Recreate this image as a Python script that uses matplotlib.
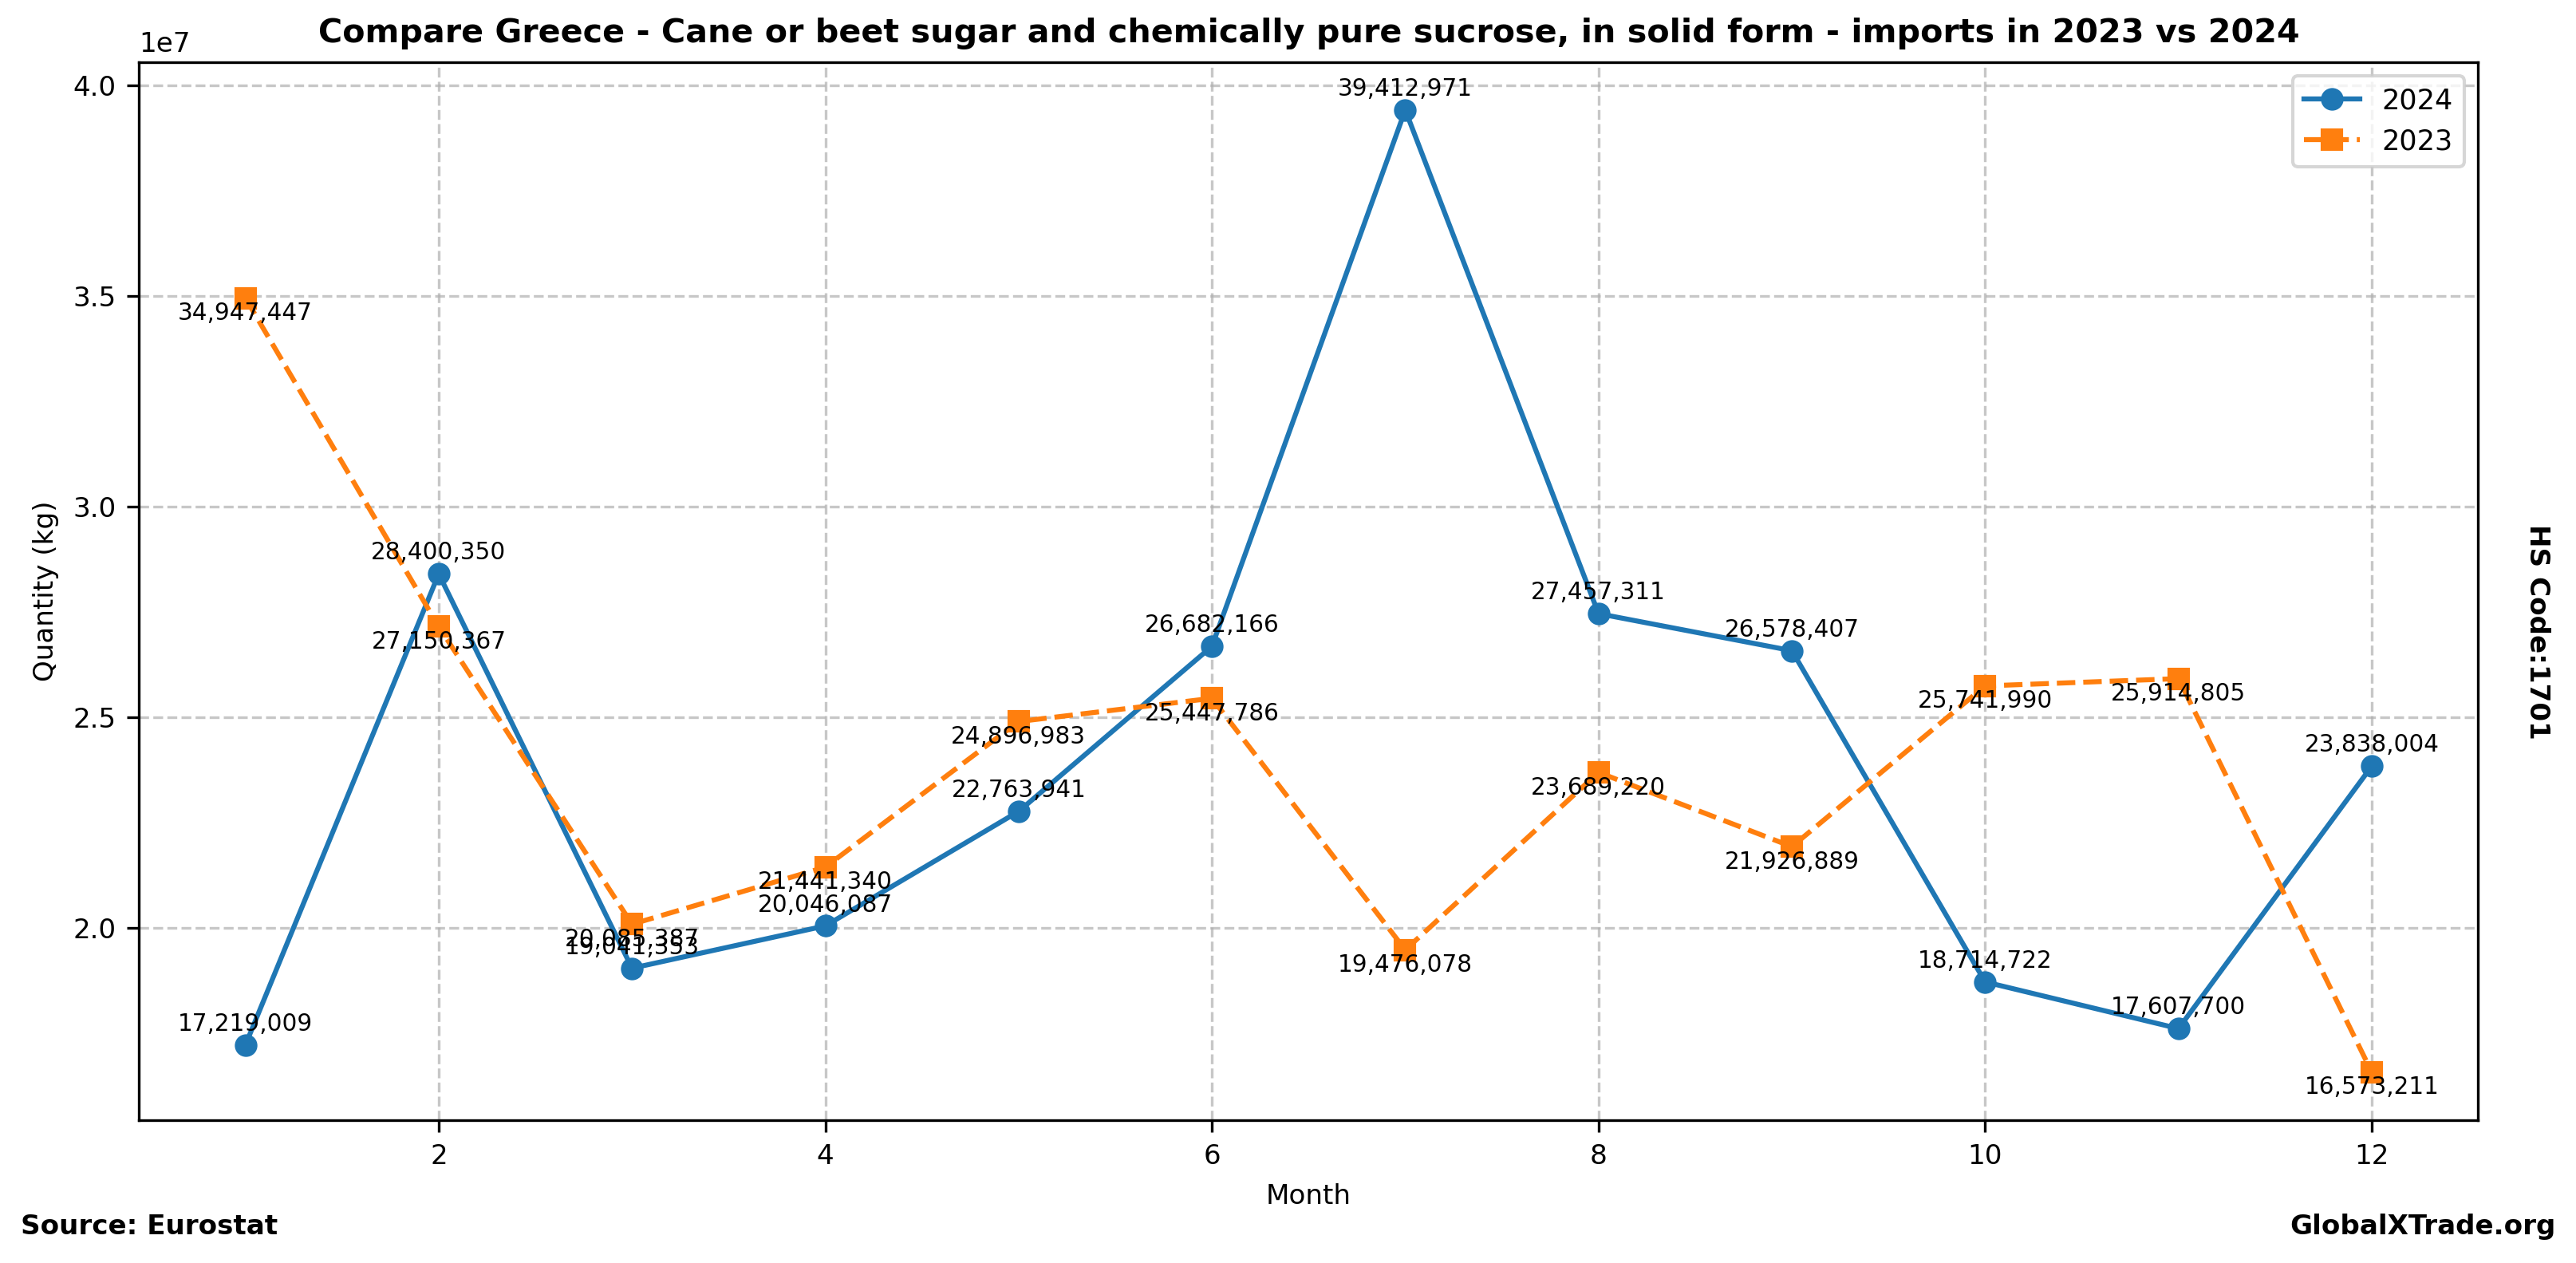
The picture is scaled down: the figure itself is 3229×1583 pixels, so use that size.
import matplotlib.pyplot as plt

months = [1, 2, 3, 4, 5, 6, 7, 8, 9, 10, 11, 12]
imports_2024 = [17219009, 28400350, 19041353, 20046087, 22763941, 26682166,
                39412971, 27457311, 26578407, 18714722, 17607700, 23838004]
imports_2023 = [34947447, 27150367, 20085387, 21441340, 24896983, 25447786,
                19476078, 23689220, 21926889, 25741990, 25914805, 16573211]

fig, ax = plt.subplots(figsize=(3229 / 300, 1583 / 300), dpi=300)
fig.subplots_adjust(left=0.054, right=0.962, top=0.951, bottom=0.113)

ax.plot(months, imports_2024, marker='o', markersize=5.8, linestyle='-',
        color='#1f77b4', label='2024')
ax.plot(months, imports_2023, marker='s', markersize=5.8, linestyle='--',
        color='#ff7f0e', label='2023')

# etiquetas de valores
for x, y in zip(months, imports_2024):
    ax.annotate(f'{y:,}', (x, y), textcoords='offset points', xytext=(0, 4.3),
                ha='center', fontsize=7.1)
for x, y in zip(months, imports_2023):
    ax.annotate(f'{y:,}', (x, y), textcoords='offset points', xytext=(0, -6.6),
                ha='center', fontsize=7.1)

ax.set_title('Compare Greece - Cane or beet sugar and chemically pure sucrose, in solid form - imports in 2023 vs 2024',
             fontsize=9.9, fontweight='bold')
ax.set_xlabel('Month', fontsize=8.2)
ax.set_ylabel('Quantity (kg)', fontsize=8.2)
ax.tick_params(labelsize=8.2)
ax.yaxis.get_offset_text().set_fontsize(8.2)
ax.grid(True, linestyle='--', alpha=0.7)
ax.legend(fontsize=8.4, loc='upper right')

fig.text(0.008, 0.029, 'Source: Eurostat', fontsize=8.2, fontweight='bold',
         ha='left', va='center')
fig.text(0.992, 0.029, 'GlobalXTrade.org', fontsize=8.2, fontweight='bold',
         ha='right', va='center')
fig.text(0.985, 0.5, 'HS Code:1701', fontsize=8.2, fontweight='bold', rotation=-90,
         ha='center', va='center')

fig.savefig('out.png')
